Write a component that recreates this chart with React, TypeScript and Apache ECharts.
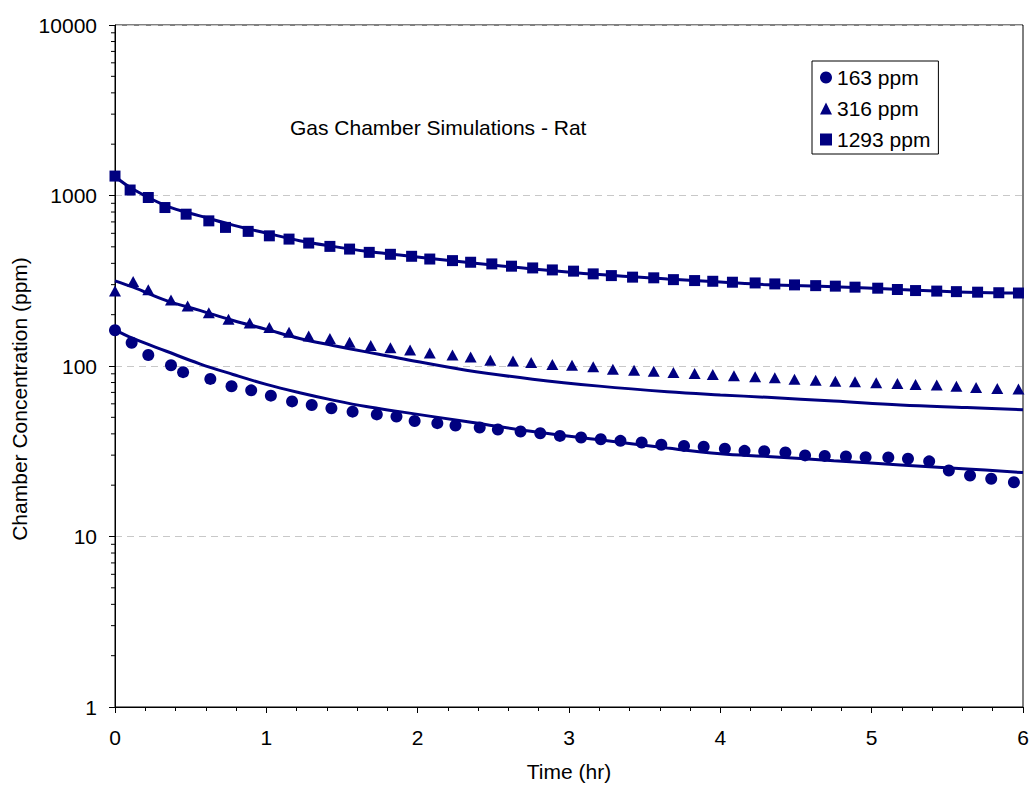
import React, { useEffect, useRef } from "react";
import * as echarts from "echarts";

const FONT = "'Liberation Sans', Arial, sans-serif";
const NAVY = "#000080";

const circleTimes = [0, 0.11, 0.22, 0.37, 0.45, 0.63, 0.77, 0.9, 1.03, 1.17, 1.3, 1.43, 1.57, 1.73, 1.86, 1.98, 2.13, 2.25, 2.41, 2.53, 2.68, 2.81, 2.94, 3.08, 3.21, 3.34, 3.48, 3.61, 3.76, 3.89, 4.03, 4.16, 4.29, 4.43, 4.56, 4.69, 4.83, 4.96, 5.11, 5.24, 5.38, 5.51, 5.65, 5.79, 5.94];
const circleValues = [162, 137, 116, 101, 92, 84, 76, 72, 67, 62, 59, 56.5, 54, 52, 50.5, 47.6, 46.2, 44.8, 43.6, 42.4, 41.3, 40.3, 38.9, 38.1, 37.2, 36.4, 35.6, 34.5, 34.0, 33.6, 32.7, 31.8, 31.6, 31.1, 29.9, 29.7, 29.5, 29.2, 29.1, 28.6, 27.6, 24.4, 22.8, 21.8, 20.8];

const triangleTimes = [0, 0.12, 0.22, 0.37, 0.48, 0.62, 0.75, 0.89, 1.02, 1.15, 1.28, 1.42, 1.55, 1.69, 1.82, 1.95, 2.08, 2.23, 2.35, 2.48, 2.63, 2.75, 2.89, 3.02, 3.16, 3.29, 3.43, 3.56, 3.69, 3.83, 3.95, 4.09, 4.23, 4.36, 4.49, 4.63, 4.76, 4.89, 5.03, 5.17, 5.29, 5.43, 5.56, 5.69, 5.83, 5.97];
const triangleValues = [275, 313, 280, 244, 225, 205, 188, 179, 168, 158, 150, 145, 138, 132, 128, 124, 119, 116, 113, 108, 107, 105, 102, 101, 99, 95.8, 94.5, 93.2, 91.6, 90.4, 89.2, 87.7, 86.5, 85.3, 83.7, 82.6, 81.5, 80.9, 79.8, 79.0, 78.0, 77.3, 76.2, 74.9, 73.9, 73.2];

const squareTimes = [0, 0.1, 0.22, 0.33, 0.47, 0.62, 0.73, 0.88, 1.02, 1.15, 1.28, 1.42, 1.55, 1.68, 1.82, 1.96, 2.08, 2.23, 2.35, 2.49, 2.62, 2.76, 2.89, 3.03, 3.16, 3.28, 3.42, 3.56, 3.69, 3.83, 3.95, 4.08, 4.23, 4.36, 4.49, 4.63, 4.76, 4.89, 5.04, 5.17, 5.29, 5.43, 5.56, 5.7, 5.84, 5.97];
const squareValues = [1300, 1077, 973, 850, 777, 710, 650, 616, 580, 555, 526, 503, 485, 464, 452, 440, 424, 415, 406, 397, 385, 376, 366, 360, 347, 339, 332, 329, 321, 317, 314, 310, 307, 303, 299, 296, 294, 290, 286, 281, 277, 275, 273, 271, 269, 268];

const modelTimes = [0, 0.12, 0.34, 0.56, 0.78, 1.0, 1.22, 1.44, 1.66, 1.88, 2.32, 2.76, 3.2, 3.65, 4.0, 4.31, 4.75, 5.19, 5.63, 6.0];
const model1293 = [1293, 1088, 869, 760, 670, 602, 543, 503, 471, 448, 406, 371, 344, 324, 311, 300, 292, 281, 271, 268];
const model316 = [316, 290, 242, 212, 185, 164, 145, 132, 121, 111, 94.5, 83.7, 76.2, 70.7, 67.7, 65.5, 62.3, 59.0, 57.0, 55.4];
const model163 = [163, 145, 122, 103, 89.2, 78.0, 69.7, 63.1, 57.8, 54.0, 47.2, 41.3, 36.9, 33.0, 30.6, 29.5, 27.8, 26.3, 24.9, 23.7];

const seriesNames = ["163 ppm", "316 ppm", "1293 ppm"];
const yDecades = [1, 10, 100, 1000];
const yMinorMultipliers = [2, 3, 4, 5, 6, 7, 8, 9];

const chartTitle = "Gas Chamber Simulations - Rat";
const xAxisTitle = "Time (hr)";
const yAxisTitle = "Chamber Concentration (ppm)";

const zip = (xs: number[], ys: number[]) => xs.map((x, i) => [x, ys[i]]);

export default function App() {
  const ref = useRef<HTMLDivElement>(null);
  useEffect(() => {
    if (!ref.current) return;
    const chart = echarts.init(ref.current, null, { renderer: "svg" });
    const minorVals: number[][] = [];
    yDecades.forEach((d) => yMinorMultipliers.forEach((m) => minorVals.push([0, d * m])));

    const lineSeries = (data: number[]) => ({
      type: "line",
      data: zip(modelTimes, data),
      showSymbol: false,
      smooth: 0.4,
      lineStyle: { color: NAVY, width: 3 },
      itemStyle: { color: NAVY },
      silent: true,
      z: 3,
    });

    const option: any = {
      animation: false,
      backgroundColor: "#fff",
      grid: { left: 115, right: 9, top: 25, bottom: 77, show: true, borderColor: "#000", borderWidth: 1 },
      legend: {
        data: seriesNames,
        orient: "vertical",
        left: 812,
        top: 61,
        padding: [6, 8, 4, 8],
        itemGap: 10,
        itemWidth: 12,
        itemHeight: 12,
        borderColor: "#000",
        borderWidth: 1,
        backgroundColor: "#fff",
        textStyle: { fontSize: 21, fontFamily: FONT, color: "#000" },
      },
      xAxis: {
        type: "value",
        min: 0,
        max: 6,
        interval: 1,
        axisLine: { show: true, lineStyle: { color: "#000", width: 1 } },
        axisTick: { show: true, length: 6, lineStyle: { color: "#000" } },
        minorTick: { show: true, splitNumber: 5, length: 4, lineStyle: { color: "#000" } },
        splitLine: { show: false },
        axisLabel: { margin: 20, fontSize: 21, fontFamily: FONT, color: "#000" },
        name: xAxisTitle,
        nameLocation: "middle",
        nameGap: 54,
        nameTextStyle: { fontSize: 21, fontFamily: FONT, color: "#000" },
      },
      yAxis: {
        type: "log",
        logBase: 10,
        min: 1,
        max: 10000,
        axisLine: { show: true, lineStyle: { color: "#000", width: 1 } },
        axisTick: { show: true, length: 6, lineStyle: { color: "#000" } },
        splitLine: { show: true, lineStyle: { color: "#c8c8c8", type: [7, 5], width: 1 } },
        axisLabel: {
          margin: 18,
          fontSize: 21,
          fontFamily: FONT,
          color: "#000",
          formatter: (v: number) => String(Math.round(v)),
        },
      },
      graphic: [
        {
          type: "text",
          x: 290,
          y: 127,
          style: { text: chartTitle, fontSize: 21, fontFamily: FONT, fill: "#000", align: "left", verticalAlign: "middle" },
        },
        {
          type: "text",
          x: 19,
          y: 399,
          rotation: Math.PI / 2,
          style: { text: yAxisTitle, fontSize: 21, fontFamily: FONT, fill: "#000", align: "center", verticalAlign: "middle" },
        },
      ],
      series: [
        {
          name: seriesNames[0],
          type: "scatter",
          symbol: "circle",
          symbolSize: 12,
          itemStyle: { color: NAVY, opacity: 1 },
          data: zip(circleTimes, circleValues),
          z: 4,
        },
        {
          name: seriesNames[1],
          type: "scatter",
          symbol: "triangle",
          symbolSize: [12, 11],
          itemStyle: { color: NAVY, opacity: 1 },
          data: zip(triangleTimes, triangleValues),
          z: 4,
        },
        {
          name: seriesNames[2],
          type: "scatter",
          symbol: "rect",
          symbolSize: 11,
          itemStyle: { color: NAVY, opacity: 1 },
          data: zip(squareTimes, squareValues),
          z: 4,
        },
        lineSeries(model163),
        lineSeries(model316),
        lineSeries(model1293),
        {
          type: "custom",
          silent: true,
          data: minorVals,
          clip: false,
          z: 5,
          renderItem: (params: any, api: any) => {
            const p = api.coord([api.value(0), api.value(1)]);
            return {
              type: "line",
              shape: { x1: p[0] - 4, y1: p[1], x2: p[0], y2: p[1] },
              style: { stroke: "#000", lineWidth: 1 },
            };
          },
        },
      ],
    };
    chart.setOption(option);
    return () => chart.dispose();
  }, []);
  return <div ref={ref} style={{ position: "absolute", left: 0, top: 0, width: 1032, height: 787 }} />;
}
